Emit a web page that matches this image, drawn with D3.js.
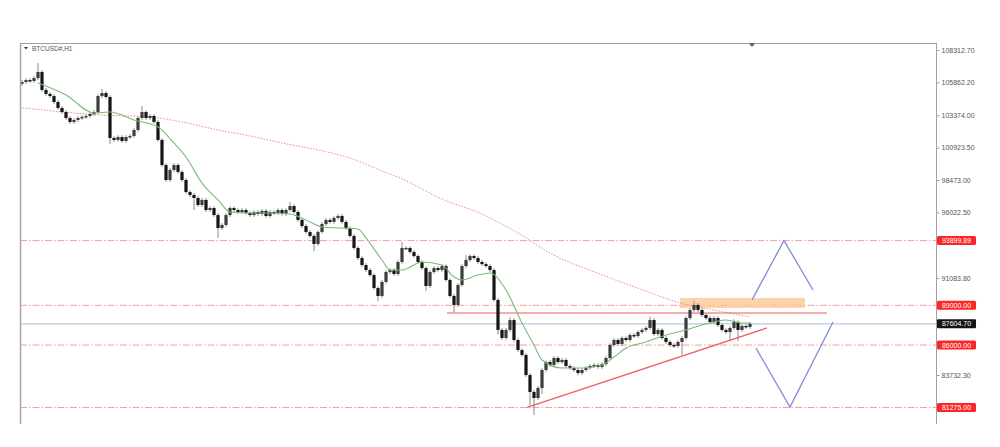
<!DOCTYPE html>
<html><head><meta charset="utf-8">
<script src="https://cdn.jsdelivr.net/npm/d3@7"></script>
<style>body{margin:0;background:#fff}svg{display:block}</style>
</head><body>
<script>
// ---------- DATA ----------
const symbol = "BTCUSD#,H1";
const firstOpenK = 105.75;
// hourly closes, thousands of USD
const closeK = [
105.89,106.04,105.97,106.19,106.65,105.29,104.99,104.83,104.38,103.93,
103.62,103.17,102.87,103.02,103.17,103.25,103.32,103.47,103.62,104.83,
105.06,104.76,101.66,101.51,101.73,101.43,101.73,101.81,102.26,103.17,
103.62,103.17,103.32,102.87,101.51,99.61,98.48,99.24,99.61,99.09,
98.48,97.57,97.35,97.12,96.59,96.97,96.21,96.36,95.83,94.85,
95.08,95.83,96.36,96.21,96.06,96.21,95.98,95.83,96.06,95.91,
96.14,95.76,96.06,95.98,96.21,95.91,96.21,96.51,96.06,95.46,
95.00,94.55,94.25,93.64,94.55,95.15,95.46,95.31,95.61,95.76,
95.31,94.85,94.25,93.34,92.58,92.05,91.67,91.29,90.31,89.71,
90.77,91.52,91.67,91.37,92.28,93.34,93.34,93.04,92.73,92.28,
91.82,90.46,91.52,91.82,91.67,91.97,90.92,89.71,89.03,90.54,
91.97,92.43,92.73,92.58,92.28,92.12,91.97,91.67,89.41,87.14,
86.53,87.14,87.89,86.38,85.62,85.25,83.73,82.45,81.99,82.75,
84.11,84.71,84.49,85.02,84.71,84.87,84.41,84.26,84.11,83.88,
84.11,84.26,84.41,84.49,84.34,84.56,85.02,86.00,86.38,86.08,
86.53,86.38,86.76,86.68,86.98,87.14,87.29,87.89,86.83,87.14,
86.53,86.23,86.00,85.93,86.23,86.53,88.04,88.65,89.03,88.65,
88.27,88.04,87.74,88.04,87.51,87.14,86.98,87.29,87.74,87.14,
87.44,87.36,87.60
];
// notable wick extremes [bar, priceK]
const wickHighK = [[4,107.33],[20,105.36],[30,104.08],[67,96.80],[95,93.80],[111,92.80],[122,88.10],[157,88.15],[168,89.35],[178,87.95]];
const wickLowK  = [[22,101.20],[43,96.20],[49,94.10],[73,93.10],[89,89.30],[101,90.10],[108,88.45],[119,86.80],[127,81.46],[128,80.71],[130,82.30],[139,83.70],[165,85.25],[177,86.30],[179,86.30]];
// fast moving average (green)
const maFastIdx = [4,11,18,22,28,34,38,41,45,49,52,57,62,67,71,75,80,84,86,90,92,95,100,105,108,110,114,117,121,125,128,130,135,140,145,148,151,156,161,166,170,173,176,180,182];
const maFastK   = [105.82,104.91,103.55,103.62,103.02,102.49,101.28,100.22,98.25,96.97,96.06,95.98,95.98,95.91,95.46,94.93,94.85,94.78,94.10,92.43,91.67,91.67,92.28,92.05,91.14,90.92,91.29,91.45,90.16,87.66,86.00,84.87,84.26,84.26,84.49,85.09,85.77,86.23,86.76,87.14,87.51,87.74,87.89,87.66,87.66];
// slow moving average (red dotted)
const maSlowIdx = [-0.5,19.5,32,40,49,57,65,74,82,90,94.5,105,115,124,132,144.5,154.5,164.5,173,182];
const maSlowK   = [103.96,103.40,103.25,102.87,102.26,101.81,101.28,100.75,100.14,99.16,98.63,97.04,95.91,94.47,92.96,91.37,90.24,89.18,88.65,88.12];
// horizontal levels
const levels = [93899.89, 89000.00, 86000.00, 81275.00];
const currentPrice = 87604.70;
const tickValues = [108312.70,105862.20,103374.00,100923.50,98473.00,96022.50,91083.80,83732.30];
const resistIdx = [106.25, 201.25], resistPrice = 88420;
const trendIdx = [126.25, 186.25], trendPrice = [81275, 87290];
const zoneIdx = [164.5, 195.75], zonePrice = [88800, 89560];
const projUpIdx = [182.5, 190.5, 197.75], projUpPrice = [89410, 93900, 90160];
const projDnIdx = [183.5, 192, 202.75], projDnPrice = [85770, 81300, 87740];
const lastBar = 182.5;

// ---------- CHART ----------
const W = 1000, H = 447;
const L = 20, R = 936, T = 43, B = 424;
const svg = d3.select("body").append("svg").attr("width", W).attr("height", H);
const x = d3.scaleLinear().domain([-0.5, 228.5]).range([L, R]);
const y = d3.scaleLinear().domain([83732.3, 108312.7]).range([375, 50]);
const font = "'Liberation Sans', Arial, sans-serif";

const defs = svg.append("defs");
defs.append("clipPath").attr("id", "clip")
  .append("rect").attr("x", L).attr("y", T).attr("width", R - L).attr("height", B - T);
defs.append("filter").attr("id", "soft").append("feGaussianBlur").attr("stdDeviation", 0.35);
const g = svg.append("g").attr("clip-path", "url(#clip)");

// current price line
g.append("line").attr("x1", L).attr("x2", R).attr("y1", y(currentPrice)).attr("y2", y(currentPrice))
  .attr("stroke", "#b9c9dc").attr("stroke-width", 1.2);

// levels
g.selectAll(".lvl").data(levels).join("line").attr("class", "lvl")
  .attr("x1", L).attr("x2", R).attr("y1", d => y(d)).attr("y2", d => y(d))
  .attr("stroke", "#f47e7e").attr("stroke-width", 1).attr("stroke-dasharray", "7,2,1.5,2").attr("opacity", 0.75);

// zone
g.append("rect").attr("x", x(zoneIdx[0])).attr("width", x(zoneIdx[1]) - x(zoneIdx[0]))
  .attr("y", y(zonePrice[1])).attr("height", y(zonePrice[0]) - y(zonePrice[1]))
  .attr("fill", "#fbc58e").attr("opacity", 0.75);

// slow MA
const line = d3.line().x(d => x(d[0])).y(d => y(d[1] * 1000)).curve(d3.curveMonotoneX);
g.append("path").datum(maSlowIdx.map((d, i) => [d, maSlowK[i]]))
  .attr("d", line).attr("fill", "none").attr("stroke", "#f08a8a").attr("stroke-width", 1)
  .attr("stroke-dasharray", "1.5,1.5");

// resistance line
g.append("line").attr("x1", x(resistIdx[0])).attr("x2", x(resistIdx[1]))
  .attr("y1", y(resistPrice)).attr("y2", y(resistPrice)).attr("stroke", "#f05a5a").attr("stroke-width", 1.2);

// trendline
g.append("line").attr("x1", x(trendIdx[0])).attr("x2", x(trendIdx[1]))
  .attr("y1", y(trendPrice[0])).attr("y2", y(trendPrice[1])).attr("stroke", "#f06060").attr("stroke-width", 1.3);

// candles
const candles = closeK.map((c, i) => {
  const o = i === 0 ? firstOpenK : closeK[i - 1];
  let hi = Math.max(o, c) + 0.14, lo = Math.min(o, c) - 0.14;
  const wh = wickHighK.find(w => w[0] === i); if (wh) hi = Math.max(hi, wh[1]);
  const wl = wickLowK.find(w => w[0] === i); if (wl) lo = Math.min(lo, wl[1]);
  return { i, o: o * 1000, c: c * 1000, hi: hi * 1000, lo: lo * 1000 };
});
const cg = g.append("g").attr("filter", "url(#soft)");
cg.selectAll(".wick").data(candles).join("line").attr("class", "wick")
  .attr("x1", d => x(d.i)).attr("x2", d => x(d.i)).attr("y1", d => y(d.hi)).attr("y2", d => y(d.lo))
  .attr("stroke", "#8a8a8a").attr("stroke-width", 1);
cg.selectAll(".body").data(candles).join("rect").attr("class", "body")
  .attr("x", d => x(d.i) - 1.6).attr("width", 3.2)
  .attr("y", d => y(Math.max(d.o, d.c)))
  .attr("height", d => Math.max(1.4, Math.abs(y(d.o) - y(d.c))))
  .attr("fill", d => d.c >= d.o ? "#3c3c3c" : "#151515");

// fast MA
g.append("path").datum(maFastIdx.map((d, i) => [d, maFastK[i]]))
  .attr("d", line).attr("fill", "none").attr("stroke", "#78bb78").attr("stroke-width", 1.1);

// projections
const pline = d3.line().x(d => x(d[0])).y(d => y(d[1]));
g.append("path").datum(projUpIdx.map((d, i) => [d, projUpPrice[i]]))
  .attr("d", pline).attr("fill", "none").attr("stroke", "#8589dc").attr("stroke-width", 1.3);
g.append("path").datum(projDnIdx.map((d, i) => [d, projDnPrice[i]]))
  .attr("d", pline).attr("fill", "none").attr("stroke", "#8589dc").attr("stroke-width", 1.3);

// frame
svg.append("line").attr("x1", L).attr("x2", R).attr("y1", T + 0.5).attr("y2", T + 0.5).attr("stroke", "#a0a0a0");
svg.append("line").attr("x1", L + 0.5).attr("x2", L + 0.5).attr("y1", T).attr("y2", B).attr("stroke", "#a8a8a8").attr("stroke-width", 1.5);

// right axis
const ax = svg.append("g").attr("transform", `translate(${R + 0.5},0)`)
  .call(d3.axisRight(y).tickValues(tickValues).tickFormat(d3.format(".2f")).tickSize(3).tickPadding(2));
ax.select(".domain").attr("stroke", "#a0a0a0").attr("d", `M0,${T}V${B}`);
ax.selectAll(".tick line").attr("stroke", "#a0a0a0");
ax.selectAll(".tick text").attr("font-family", font).attr("font-size", 7).attr("fill", "#555");

// level boxes
const boxes = svg.append("g");
const bx = R + 1, bw = 39, bh = 9;
levels.forEach(v => {
  boxes.append("rect").attr("x", bx).attr("y", y(v) - bh / 2).attr("width", bw).attr("height", bh)
    .attr("rx", 1.5).attr("fill", "#fb2727");
  boxes.append("text").attr("x", bx + bw / 2).attr("y", y(v) + 2.5).attr("text-anchor", "middle")
    .attr("font-family", font).attr("font-size", 7).attr("fill", "#fff").text(d3.format(".2f")(v));
});
boxes.append("rect").attr("x", bx).attr("y", y(currentPrice) - bh / 2).attr("width", bw).attr("height", bh)
  .attr("rx", 1).attr("fill", "#151515");
boxes.append("text").attr("x", bx + bw / 2).attr("y", y(currentPrice) + 2.5).attr("text-anchor", "middle")
  .attr("font-family", font).attr("font-size", 7).attr("fill", "#fff").text(d3.format(".2f")(currentPrice));

// header
svg.append("path").attr("d", `M${L + 4},${T + 4}h4l-2,2.5z`).attr("fill", "#333");
svg.append("text").attr("x", L + 12).attr("y", T + 7.5).attr("font-family", font).attr("font-size", 6.5)
  .attr("fill", "#555").text(symbol);
// current bar marker
svg.append("path").attr("d", `M${x(lastBar) - 3.5},${T}h7l-3.5,4z`).attr("fill", "#666");
</script>
</body></html>
